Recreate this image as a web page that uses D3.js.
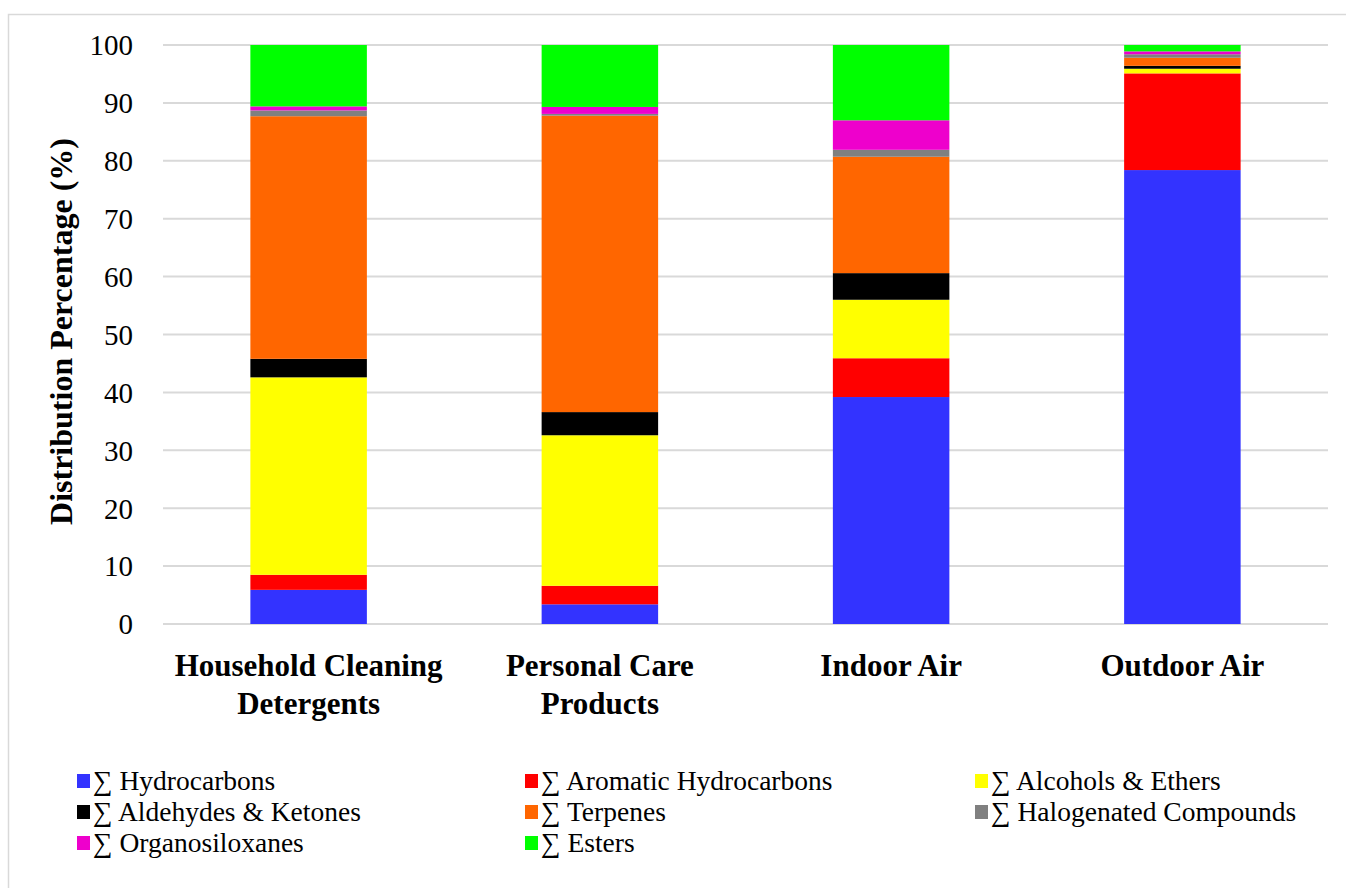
<!DOCTYPE html>
<html>
<head>
<meta charset="utf-8">
<script src="https://cdn.jsdelivr.net/npm/d3@7"></script>
<style>
  body { margin: 0; background: #fff; }
  svg text { font-family: "Liberation Serif", "DejaVu Serif", serif; fill: #000; }
</style>
</head>
<body>
<svg id="chart" width="1346" height="888"></svg>
<script>
// categories and series (percent of total)
const categories = ["Household Cleaning|Detergents", "Personal Care|Products", "Indoor Air", "Outdoor Air"];
const seriesNames = ["∑ Hydrocarbons", "∑ Aromatic Hydrocarbons", "∑ Alcohols & Ethers",
  "∑ Aldehydes & Ketones", "∑ Terpenes", "∑ Halogenated Compounds", "∑ Organosiloxanes", "∑ Esters"];
const seriesColors = ["#3333ff", "#ff0000", "#ffff00", "#000000", "#ff6600", "#808080", "#ee00cc", "#00ff00"];

const hydrocarbons   = [5.9, 3.4, 39.2, 78.4];
const aromatic       = [2.6, 3.2, 6.7, 16.7];
const alcohols       = [34.1, 26.0, 10.1, 0.8];
const aldehydes      = [3.2, 4.0, 4.6, 0.5];
const terpenes       = [41.9, 51.2, 20.1, 1.4];
const halogenated    = [1.0, 0.3, 1.2, 0.6];
const organosiloxanes = [0.7, 1.2, 5.1, 0.5];
const esters         = [10.6, 10.7, 13.0, 1.1];

const yTicks = [0, 10, 20, 30, 40, 50, 60, 70, 80, 90, 100];

const seriesValues = [hydrocarbons, aromatic, alcohols, aldehydes, terpenes, halogenated, organosiloxanes, esters];

const table = categories.map((c, i) => {
  const row = { cat: c };
  seriesNames.forEach((s, j) => row[s] = seriesValues[j][i]);
  return row;
});

const svg = d3.select("#chart");
const margin = { left: 163, right: 18, top: 45, bottom: 264 };
const W = 1346, H = 888;

// outer frame
svg.append("rect")
  .attr("x", 8.5).attr("y", 14.5)
  .attr("width", W + 10).attr("height", H + 10)
  .attr("fill", "none").attr("stroke", "#d9d9d9").attr("stroke-width", 1.5);

const x = d3.scaleBand().domain(categories)
  .range([margin.left, W - margin.right])
  .paddingInner(0.6).paddingOuter(0.3);
const y = d3.scaleLinear().domain([0, 100]).range([H - margin.bottom, margin.top]);

// grid
svg.append("g").selectAll("line").data(yTicks).join("line")
  .attr("x1", margin.left).attr("x2", W - margin.right)
  .attr("y1", d => y(d)).attr("y2", d => y(d))
  .attr("stroke", "#d9d9d9").attr("stroke-width", 2);

// y axis labels
const yAxis = svg.append("g")
  .attr("transform", "translate(" + (margin.left - 30) + ",0)")
  .call(d3.axisLeft(y).tickValues(yTicks).tickSize(0).tickPadding(0));
yAxis.select(".domain").remove();
yAxis.selectAll("text").style("font-size", "29px").attr("dy", "0.34em");

// bars
const stack = d3.stack().keys(seriesNames)(table);
svg.append("g").selectAll("g").data(stack).join("g")
  .attr("fill", (d, i) => seriesColors[i])
  .selectAll("rect").data(d => d).join("rect")
  .attr("x", d => x(d.data.cat))
  .attr("width", x.bandwidth())
  .attr("y", d => y(d[1]))
  .attr("height", d => y(d[0]) - y(d[1]));

// category labels
const xl = svg.append("g").selectAll("text").data(categories).join("text")
  .attr("x", d => x(d) + x.bandwidth() / 2)
  .attr("y", 676)
  .attr("text-anchor", "middle")
  .style("font-size", "31px").style("font-weight", "bold");
xl.selectAll("tspan").data(d => d.split("|")).join("tspan")
  .attr("x", function() { return this.parentNode.getAttribute("x"); })
  .attr("dy", (d, i) => i ? 38 : 0)
  .text(d => d);

// y title
svg.append("text")
  .attr("transform", "translate(72," + (y(50) - 3) + ") rotate(-90)")
  .attr("text-anchor", "middle")
  .style("font-size", "32px").style("font-weight", "bold")
  .text("Distribution Percentage (%)");

// legend
const legCols = [77, 525, 975];
const leg = svg.append("g").selectAll("g").data(seriesNames).join("g")
  .attr("transform", (d, i) => "translate(" + legCols[i % 3] + "," + (781 + Math.floor(i / 3) * 31) + ")");
leg.append("rect").attr("x", 0).attr("y", -7).attr("width", 13).attr("height", 14)
  .attr("fill", (d, i) => seriesColors[i]);
leg.append("text").attr("x", 16).attr("dy", "0.34em")
  .style("font-size", "27.5px").text(d => d);
</script>
</body>
</html>
